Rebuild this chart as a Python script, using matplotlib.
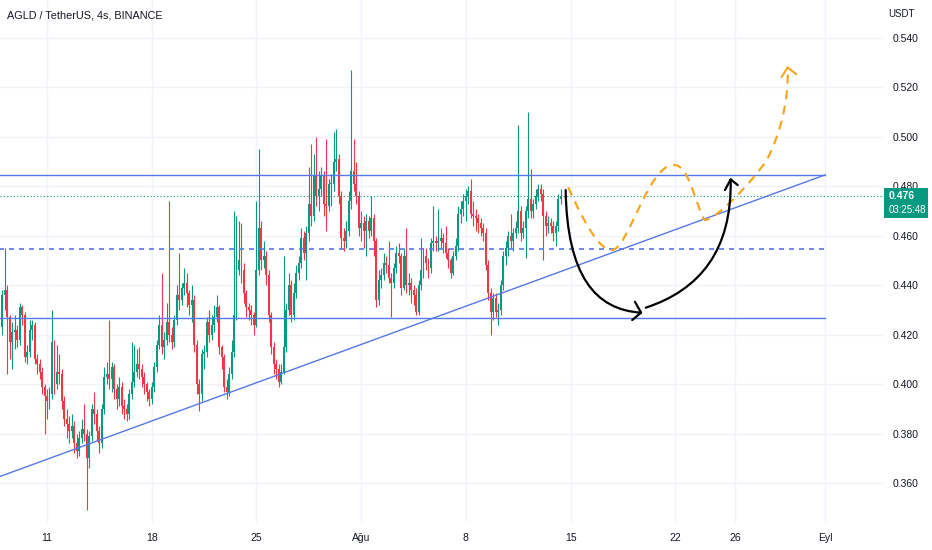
import matplotlib
matplotlib.use("Agg")
import matplotlib.pyplot as plt
import matplotlib.transforms as mtransforms
from matplotlib.path import Path
from matplotlib.patches import PathPatch, Rectangle
import numpy as np

# ---------------- data (prices in thousandths of USDT) ----------------
FIRST_OPEN = 423
CLOSE = [436,438,427,417,421,422,418,431,428,411,
         413,422,424,410,408,405,399,395,393,396,
         417,400,405,404,393,386,384,381,383,376,
         373,378,382,380,370,379,390,388,381,376,
         390,403,404,402,407,398,394,399,391,390,
         388,396,401,405,408,406,403,400,397,394,
         399,407,416,424,415,418,425,420,417,426,
         436,434,439,441,437,432,434,416,400,396,
         412,413,425,420,424,427,431,415,411,399,
         397,404,413,428,446,450,446,437,431,430,
         428,424,446,463,450,452,444,428,415,408,
         406,401,405,415,430,440,428,437,445,449,
         459,453,461,473,468,484,476,479,484,473,
         472,481,481,490,491,476,459,458,462,474,
         486,481,476,463,465,462,466,462,467,458,
         434,442,444,449,448,443,441,447,453,452,
         439,452,440,441,438,436,429,440,446,452,
         449,447,457,458,457,458,459,457,453,450,
         445,452,456,469,471,474,476,478,469,468,
         467,465,463,461,448,437,429,435,429,430,
         440,452,455,460,458,461,463,470,461,463,
         470,475,470,473,476,479,477,468,464,465,
         464,461,464,475,476]
HIGH = [438,455,440,428,425,428,424,433,432,429,
        416,426,426,425,412,410,407,400,398,399,
        430,418,416,412,406,395,390,387,388,385,
        380,381,386,392,382,381,392,397,390,383,
        392,407,409,426,409,408,400,403,401,394,
        392,398,417,416,414,415,408,405,401,398,
        401,409,418,428,445,421,433,474,423,428,
        440,453,441,447,445,438,440,436,418,402,
        414,416,427,430,428,432,436,432,416,412,
        402,407,418,470,468,466,465,449,438,433,
        432,429,474,495,466,458,454,446,429,417,
        410,408,408,452,433,445,442,441,448,452,
        463,462,464,488,497,493,500,486,488,486,
        499,483,485,502,503,493,478,463,466,478,
        527,499,490,478,470,468,469,468,476,469,
        459,446,447,453,452,458,445,449,456,457,
        453,455,463,445,443,440,439,442,459,455,
        455,451,459,472,460,471,463,461,464,455,
        451,454,459,472,474,477,479,480,483,474,
        471,469,467,465,463,450,439,437,437,433,
        442,454,458,462,469,463,466,505,472,466,
        472,510,487,475,479,481,481,479,470,468,
        467,466,466,477,479]
LOW = [420,430,404,410,406,414,415,416,424,409,
       408,411,418,408,404,402,396,380,386,390,
       394,396,398,400,390,383,378,376,378,372,
       370,371,376,377,349,366,377,384,377,372,
       374,388,400,398,397,394,390,391,388,386,
       385,386,394,399,403,402,399,396,393,391,
       392,397,405,414,412,410,416,417,414,415,
       424,430,432,436,431,428,425,413,396,389,
       393,406,411,417,418,421,425,412,406,397,
       394,395,402,411,426,444,441,433,427,426,
       424,420,423,444,446,447,440,425,412,404,
       402,399,400,404,413,428,425,426,435,442,
       447,450,442,458,464,466,472,470,476,468,
       462,470,472,478,486,473,455,454,455,460,
       471,478,473,460,458,455,452,459,460,452,
       431,432,439,442,445,441,427,439,445,449,
       436,438,437,436,433,432,428,428,438,443,
       446,443,445,454,454,454,455,453,451,447,
       443,444,450,454,465,468,466,473,467,464,
       462,461,460,458,446,434,420,426,427,424,
       428,438,448,452,455,454,459,461,458,459,
       451,467,467,467,471,474,474,450,460,461,
       461,458,456,462,473]

FIRST_CANDLE_DAY = -3          # 8 Jul, days counted from 11 Jul
CANDLES_PER_DAY = 6            # 4h candles

TICK_DAYS = [0, 7, 14, 21, 28, 35, 42, 46, 52]
TICK_LABELS = ["11", "18", "25", "Ağu", "8", "15", "22", "26", "Eyl"]
PRICE_TICKS = [0.36, 0.38, 0.40, 0.42, 0.44, 0.46, 0.48, 0.50, 0.52, 0.54]

RESISTANCE = 0.4846
MID_LEVEL = 0.4546
SUPPORT = 0.4269
LEVEL_END_DAY = 52.0
TREND = [(-3.2, 0.3625), (52.0, 0.4846)]

BLACK1 = [(34.67, 0.4785), (34.76, 0.4441), (36.63, 0.4300), (39.71, 0.4289)]
BLACK1_HEAD = [(39.30, 0.4333), (39.71, 0.4289), (39.12, 0.4259)]
BLACK2 = [(40.02, 0.4309), (43.65, 0.4381), (45.79, 0.4542), (45.70, 0.4828)]
BLACK2_HEAD = [(45.32, 0.4785), (45.70, 0.4828), (46.17, 0.4805)]
ORANGE = [(34.85, 0.4796), (35.96, 0.4644), (36.96, 0.4542), (37.75, 0.4542),
          (38.84, 0.4542), (40.17, 0.4886), (41.87, 0.4886),
          (42.98, 0.4894), (43.52, 0.4684), (43.98, 0.4664),
          (44.65, 0.4664), (46.99, 0.4805), (48.11, 0.4906),
          (49.00, 0.5008), (49.60, 0.5149), (49.51, 0.5281)]
ORANGE_HEAD = [(49.11, 0.5243), (49.51, 0.5281), (50.07, 0.5254)]

TITLE = "AGLD / TetherUS, 4s, BINANCE"
COUNTDOWN = "03:25:48"

# ---------------- styling ----------------
UP = "#089981"
DOWN = "#f23645"
BLUE = "#5677e6"
ORANGE_C = "#f5a623"
GRID = "#f0f3fa"
TXT = "#131722"
plt.rcParams["font.family"] = ["Liberation Sans", "DejaVu Sans"]

W, H = 932, 550
fig = plt.figure(figsize=(W / 100, H / 100), dpi=100)
fig.patch.set_facecolor("white")
ax = fig.add_axes([0, 1 - 522 / H, 884 / W, 522 / H])
ax.set_facecolor("white")

close = np.array(CLOSE) / 1000.0
high = np.array(HIGH) / 1000.0
low = np.array(LOW) / 1000.0
opens = np.concatenate([[FIRST_OPEN / 1000.0], close[:-1]])
n = len(close)
xs = FIRST_CANDLE_DAY + np.arange(n) / CANDLES_PER_DAY
up = close >= opens
colors = np.where(up, UP, DOWN)

ax.vlines(xs, low, high, colors=colors, linewidth=0.8, zorder=3)
bottoms = np.minimum(opens, close)
heights = np.maximum(np.abs(close - opens), 0.0004)
ax.bar(xs, heights, bottom=bottoms, width=0.13, color=colors, linewidth=0, zorder=4)

# levels
ax.plot([-4, LEVEL_END_DAY], [RESISTANCE, RESISTANCE], color=BLUE, lw=1.0, zorder=5)
ax.plot([-4, LEVEL_END_DAY], [SUPPORT, SUPPORT], color=BLUE, lw=1.0, zorder=5)
ax.plot([-4, LEVEL_END_DAY], [MID_LEVEL, MID_LEVEL], color=BLUE, lw=1.2,
        linestyle=(0, (3, 3)), zorder=5)
ax.plot([p[0] for p in TREND], [p[1] for p in TREND], color=BLUE, lw=1.0, zorder=5)
ax.axhline(close[-1], color=UP, lw=0.8, linestyle=(0, (1, 2)), zorder=2)


def bezier(points):
    codes = [Path.MOVETO] + [Path.CURVE4] * (len(points) - 1)
    return Path(points, codes)


ax.add_patch(PathPatch(bezier(ORANGE), fill=False, edgecolor=ORANGE_C, lw=1.6,
                       linestyle=(0, (4, 3)), capstyle="butt", zorder=6))
ax.plot([p[0] for p in ORANGE_HEAD], [p[1] for p in ORANGE_HEAD], color=ORANGE_C,
        lw=1.5, zorder=6)
for curve, head in ((BLACK1, BLACK1_HEAD), (BLACK2, BLACK2_HEAD)):
    ax.add_patch(PathPatch(bezier(curve), fill=False, edgecolor="black", lw=1.6,
                           capstyle="round", zorder=7))
    ax.plot([p[0] for p in head], [p[1] for p in head], color="black", lw=1.6,
            solid_capstyle="round", solid_joinstyle="round", zorder=7)

# axes
ax.set_xlim(-47 / 14.96, 837 / 14.96)
ax.set_ylim(0.34421, 0.55537)
ax.set_xticks(TICK_DAYS)
ax.set_xticklabels(TICK_LABELS)
ax.set_yticks(PRICE_TICKS)
ax.set_yticklabels([f"{v:.3f}" for v in PRICE_TICKS])
ax.yaxis.tick_right()
ax.tick_params(axis="y", length=0, pad=6, labelsize=7.5, labelcolor=TXT)
ax.tick_params(axis="x", length=0, pad=8, labelsize=7.5, labelcolor=TXT)
ax.grid(True, color=GRID, lw=1.0, zorder=0)
ax.set_axisbelow(True)
for s in ax.spines.values():
    s.set_visible(False)

# title and unit
fig.text(7 / W, 1 - 16 / H, TITLE, fontsize=7.8, color=TXT, va="center", ha="left")
fig.text(888 / W, 1 - 14 / H, "USDT", fontsize=7, color=TXT, va="center", ha="left")

# last price badge
trans = mtransforms.blended_transform_factory(ax.transAxes, ax.transData)
px = 1 / 2472.0
ax.add_patch(Rectangle((1.0, close[-1] - 22 * px), 44 / 884, 30 * px, transform=trans,
                       facecolor=UP, edgecolor="none", clip_on=False, zorder=10))
ax.text(1.0 + 5 / 884, close[-1], f"{close[-1]:.3f}", transform=trans, color="white",
        fontsize=7.5, fontweight="bold", va="center", ha="left", clip_on=False, zorder=11)
ax.text(1.0 + 5 / 884, close[-1] - 14 * px, COUNTDOWN, transform=trans, color="white",
        fontsize=7, va="center", ha="left", clip_on=False, zorder=11)

fig.savefig("out.png", dpi=100, facecolor="white")
